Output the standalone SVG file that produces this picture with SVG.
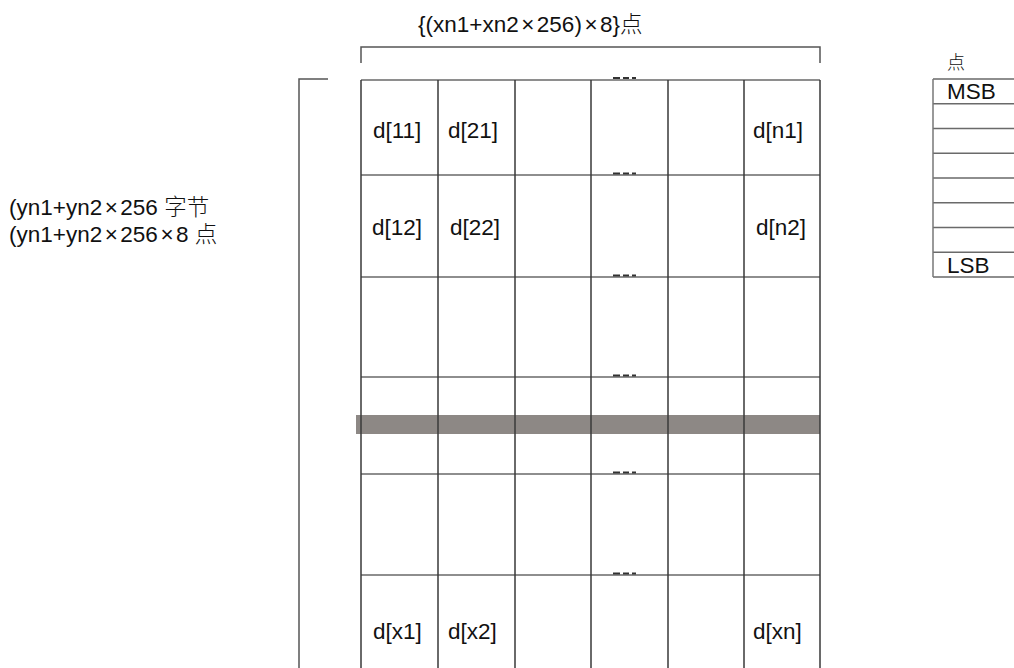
<svg xmlns="http://www.w3.org/2000/svg" width="1014" height="668" viewBox="0 0 1014 668">
<style>
.t{font-family:"Liberation Sans",Arial,"Noto Sans CJK SC",sans-serif;font-size:22.5px;fill:#111}
.c{font-family:"Noto Sans CJK SC",sans-serif;font-weight:300}
.v{stroke:#3a3a3a;stroke-width:1.5;fill:none}
.h{stroke:#6a6a6a;stroke-width:1.4;fill:none}
.b{stroke:#555;stroke-width:1.5;fill:none}
.d{stroke:#333;stroke-width:2;stroke-dasharray:7 3 6 3 4 100;fill:none}
</style>
<rect width="1014" height="668" fill="#fff"/>

<g id="top-bracket">
<path class="b" d="M361,63 V47 H820 V63"/>
<text class="t" x="418" y="32">{(xn1+xn2<tspan dx="2.5">×</tspan><tspan dx="2.5">256)</tspan><tspan dx="2.5">×</tspan><tspan dx="2.5">8}</tspan><tspan class="c">点</tspan></text>
</g>

<g id="left-bracket">
<path class="b" d="M328,79 H299 V668"/>
<text class="t" x="9" y="215">(yn1+yn2<tspan dx="2.5">×</tspan><tspan dx="2.5">256 </tspan><tspan class="c">字节</tspan></text>
<text class="t" x="9" y="242">(yn1+yn2<tspan dx="2.5">×</tspan><tspan dx="2.5">256</tspan><tspan dx="2.5">×</tspan><tspan dx="2.5">8 </tspan><tspan class="c">点</tspan></text>
</g>

<g id="band">
<rect x="356" y="415" width="464" height="19" fill="#8d8885"/>
</g>

<g id="grid">
<path class="h" d="M361,80 H820 M361,175 H820 M361,277 H820 M361,377 H820 M361,474 H820 M361,575 H820"/>
<path class="v" d="M361,80 V668 M438,80 V668 M515,80 V668 M591,80 V668 M668,80 V668 M744,80 V668 M820,80 V668"/>
</g>

<g id="ellipsis">
<path class="d" d="M613,78 H643 M613,173.5 H643 M613,275.5 H643 M613,375.5 H643 M613,472.5 H643 M613,573.5 H643"/>
</g>

<g id="row1">
<text class="t" x="373" y="138">d[11]</text>
<text class="t" x="448" y="138">d[21]</text>
<text class="t" x="753" y="138">d[n1]</text>
</g>
<g id="row2">
<text class="t" x="372" y="235">d[12]</text>
<text class="t" x="450" y="235">d[22]</text>
<text class="t" x="756" y="235">d[n2]</text>
</g>
<g id="rowx">
<text class="t" x="373" y="639">d[x1]</text>
<text class="t" x="448" y="639">d[x2]</text>
<text class="t" x="753" y="639">d[xn]</text>
</g>

<g id="bit-box">
<text class="t c" x="947" y="69" style="font-size:18px">点</text>
<path class="h" d="M933,79 H1014 M933,103.75 H1014 M933,128.5 H1014 M933,153.25 H1014 M933,178 H1014 M933,202.75 H1014 M933,227.5 H1014 M933,252.25 H1014 M933,277 H1014"/>
<path class="v" d="M933,79 V277" style="stroke:#777"/>
<text class="t" x="947" y="99">MSB</text>
<text class="t" x="947" y="273">LSB</text>
</g>
</svg>
